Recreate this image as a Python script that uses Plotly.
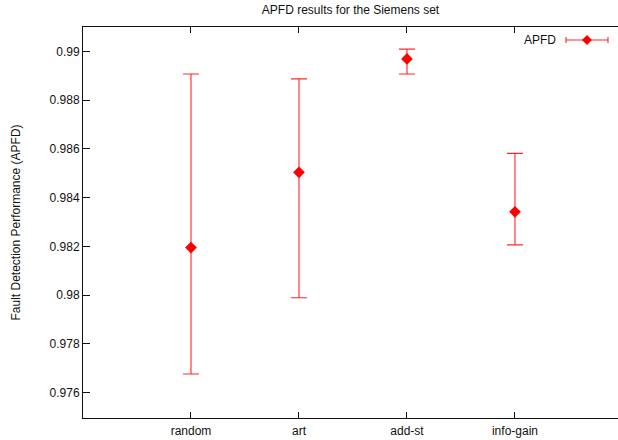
import plotly.graph_objects as go

categories = ["random", "art", "add-st", "info-gain"]
apfd_mean = [0.98195, 0.98504, 0.98970, 0.98342]
apfd_high = [0.98908, 0.98888, 0.99010, 0.98582]
apfd_low = [0.97676, 0.97989, 0.98908, 0.98206]
y_ticks = [0.976, 0.978, 0.98, 0.982, 0.984, 0.986, 0.988, 0.99]
y_tick_text = ["0.976", "0.978", "0.98", "0.982", "0.984", "0.986", "0.988", "0.99"]

err_plus = [h - m for h, m in zip(apfd_high, apfd_mean)]
err_minus = [m - l for m, l in zip(apfd_mean, apfd_low)]

FONT = "Liberation Sans, Arial, sans-serif"
RED = "#ff0000"

fig = go.Figure()
fig.add_trace(go.Scatter(
    x=categories, y=apfd_mean, mode="markers", name="APFD",
    marker=dict(symbol="diamond", size=9, color=RED),
    error_y=dict(type="data", symmetric=False, array=err_plus, arrayminus=err_minus,
                 color="rgba(255,0,0,0.85)", thickness=1.1, width=8),
    showlegend=False,
))

# legend (gnuplot style: text then sample)
ax, ay = 0.9421, 0.9668
fig.add_annotation(x=0.8879, y=ay, xref="paper", yref="paper", text="APFD",
                   showarrow=False, xanchor="right", yanchor="middle",
                   font=dict(family=FONT, size=12, color="#111"))
line_style = dict(color="rgba(255,0,0,0.85)", width=1.1)
fig.add_shape(type="line", xref="paper", yref="paper", xsizemode="pixel", ysizemode="pixel",
              xanchor=ax, yanchor=ay, x0=-21, x1=21, y0=0, y1=0, line=line_style)
for dx in (-21, 21):
    fig.add_shape(type="line", xref="paper", yref="paper", xsizemode="pixel", ysizemode="pixel",
                  xanchor=ax, yanchor=ay, x0=dx, x1=dx, y0=-3, y1=3, line=line_style)
fig.add_shape(type="path", xref="paper", yref="paper", xsizemode="pixel", ysizemode="pixel",
              xanchor=ax, yanchor=ay, path="M -5,0 L 0,5 L 5,0 L 0,-5 Z",
              fillcolor=RED, line=dict(width=0))

fig.update_layout(
    width=618, height=440,
    margin=dict(l=83, r=0, t=27, b=22),
    paper_bgcolor="white", plot_bgcolor="white",
    font=dict(family=FONT, size=12, color="#111"),
    title=dict(text="APFD results for the Siemens set", x=0.5, xref="paper", xanchor="center",
               y=0.977, yanchor="middle", font=dict(family=FONT, size=12, color="#111")),
    showlegend=False,
)
fig.update_xaxes(
    type="category", range=[-1, 3.954], showgrid=False, zeroline=False,
    showline=True, linecolor="#111", linewidth=1, mirror="ticks",
    ticks="inside", ticklen=6, tickcolor="#111", tickwidth=1,
    tickfont=dict(family=FONT, size=12, color="#111"), ticklabelstandoff=2,
)
fig.update_yaxes(
    range=[0.97495, 0.99101], tickvals=y_ticks, ticktext=y_tick_text,
    showgrid=False, zeroline=False, showline=True, linecolor="#111", linewidth=1,
    ticks="inside", ticklen=7, tickcolor="#111", tickwidth=1,
    tickfont=dict(family=FONT, size=12, color="#111"),
    title=dict(text="Fault Detection Performance (APFD)", standoff=26,
               font=dict(family=FONT, size=12, color="#111")),
)

fig.write_html("out.html", config={"displayModeBar": False},
               post_script="document.body.style.margin='0';")
